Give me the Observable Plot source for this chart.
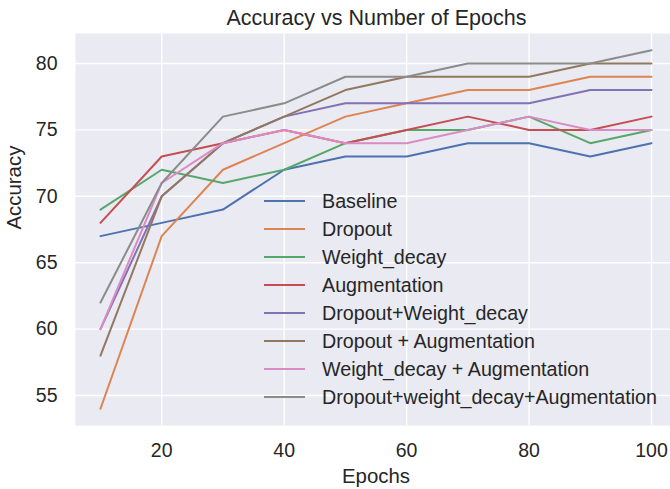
<!DOCTYPE html>
<html>
<head>
<meta charset="utf-8">
<script src="https://cdn.jsdelivr.net/npm/d3@7"></script>
<script src="https://cdn.jsdelivr.net/npm/@observablehq/plot@0.6"></script>
<style>
  html, body { margin: 0; padding: 0; background: #ffffff; }
  #wrap { position: relative; width: 670px; height: 489px; overflow: hidden;
          font-family: "Liberation Sans", Arial, sans-serif; color: #262626; }
  #title { position: absolute; left: 75px; width: 603px; top: 8px; text-align: center;
           font-size: 21.5px; line-height: 21.5px; white-space: nowrap; }
  #chart { position: absolute; left: 0; top: 33px; }
  #legend { position: absolute; left: 262px; top: 187px; }
  .row { position: relative; height: 28px; line-height: 28px; font-size: 19.7px; white-space: nowrap; }
  .row svg { position: absolute; left: 0; top: 0; }
  .row span { position: absolute; left: 60px; top: 0; }
</style>
</head>
<body>
<div id="wrap">
  <div id="title">Accuracy vs Number of Epochs</div>
  <div id="chart"></div>
  <div id="legend"></div>
</div>
<script>
// ---- data ----
const epochs = [10, 20, 30, 40, 50, 60, 70, 80, 90, 100];
const seriesNames = [
  "Baseline",
  "Dropout",
  "Weight_decay",
  "Augmentation",
  "Dropout+Weight_decay",
  "Dropout + Augmentation",
  "Weight_decay + Augmentation",
  "Dropout+weight_decay+Augmentation"
];
const baseline       = [67, 68, 69, 72, 73, 73, 74, 74, 73, 74];
const dropout        = [54, 67, 72, 74, 76, 77, 78, 78, 79, 79];
const weightDecay    = [69, 72, 71, 72, 74, 75, 75, 76, 74, 75];
const augmentation   = [68, 73, 74, 75, 74, 75, 76, 75, 75, 76];
const dropoutWD      = [60, 70, 74, 76, 77, 77, 77, 77, 78, 78];
const dropoutAug     = [58, 70, 74, 76, 78, 79, 79, 79, 80, 80];
const wdAug          = [60, 71, 74, 75, 74, 74, 75, 76, 75, 75];
const dropoutWDAug   = [62, 71, 76, 77, 79, 79, 80, 80, 80, 81];
const seriesValues = [baseline, dropout, weightDecay, augmentation, dropoutWD, dropoutAug, wdAug, dropoutWDAug];
const seriesColors = ["#4C72B0", "#DD8452", "#55A868", "#C44E52", "#8172B3", "#937860", "#DA8BC3", "#8C8C8C"];
const xTicks = [20, 40, 60, 80, 100];
const yTicks = [55, 60, 65, 70, 75, 80];

// ---- table ----
const rows = seriesNames.flatMap((name, s) =>
  epochs.map((e, i) => ({ series: name, epoch: e, value: seriesValues[s][i] }))
);

const font = '"Liberation Sans", Arial, sans-serif';

const chart = Plot.plot({
  width: 670,
  height: 456,
  marginLeft: 75,
  marginRight: 0,
  marginTop: 0,
  marginBottom: 64,
  style: { fontFamily: font, fontSize: "19px", color: "#262626", background: "transparent", overflow: "visible" },
  x: { domain: [5.92, 103.1] },
  y: { domain: [52.74, 82.26] },
  color: { domain: seriesNames, range: seriesColors },
  marks: [
    Plot.frame({ fill: "#EAEAF2", stroke: "none" }),
    Plot.gridX({ ticks: xTicks, stroke: "#ffffff", strokeOpacity: 1, strokeWidth: 1.4 }),
    Plot.gridY({ ticks: yTicks, stroke: "#ffffff", strokeOpacity: 1, strokeWidth: 1.4 }),
    Plot.axisX({ ticks: xTicks, tickSize: 0, tickPadding: 18, label: null, fontSize: 19.5, fill: "#262626" }),
    Plot.axisY({ ticks: yTicks, tickSize: 0, tickPadding: 18, label: null, fontSize: 19.5, fill: "#262626" }),
    Plot.line(rows, { x: "epoch", y: "value", z: "series", stroke: "series", strokeWidth: 2, strokeLinejoin: "miter" }),
    Plot.text(["Epochs"], { text: d => d, frameAnchor: "bottom", dx: 3, dy: 43, lineAnchor: "top", fontSize: 20.4, fill: "#262626" }),
    Plot.text(["Accuracy"], { text: d => d, frameAnchor: "left", dx: -61, rotate: -90, fontSize: 20.4, fill: "#262626" })
  ]
});
document.getElementById("chart").appendChild(chart);

// ---- legend ----
const legend = document.getElementById("legend");
seriesNames.forEach((name, i) => {
  const row = document.createElement("div");
  row.className = "row";
  row.innerHTML = `<svg width="46" height="28"><line x1="2" x2="43" y1="14" y2="14" stroke="${seriesColors[i]}" stroke-width="2.2"/></svg><span>${name}</span>`;
  legend.appendChild(row);
});
</script>
</body>
</html>
